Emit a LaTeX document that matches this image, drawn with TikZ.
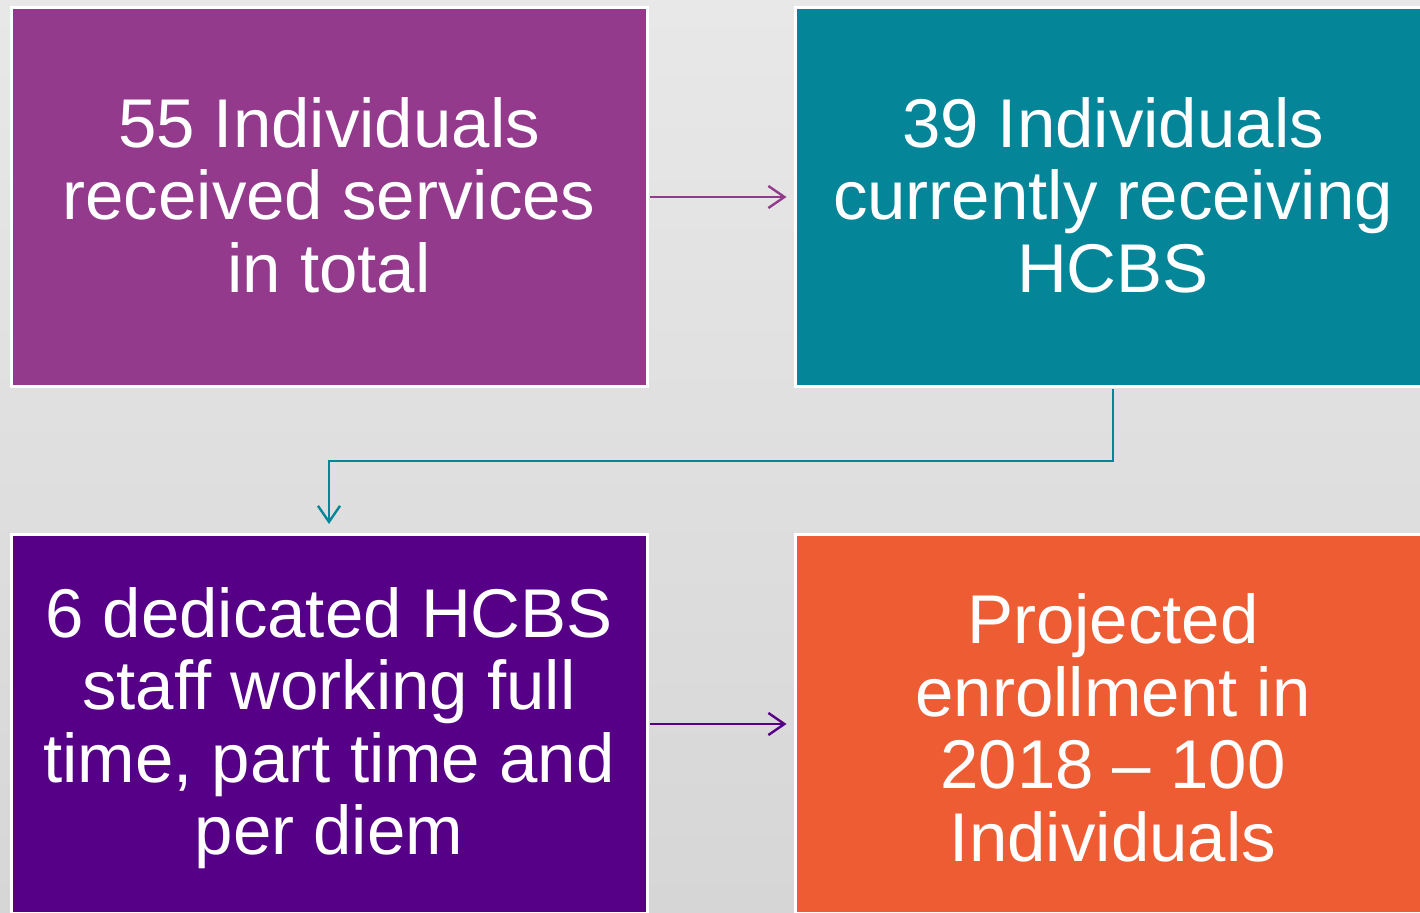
\documentclass[tikz,border=0pt]{standalone}
\usepackage{fontspec}
\setmainfont{Liberation Sans}
\usetikzlibrary{arrows.meta}
\definecolor{cA}{HTML}{943A8C}
\definecolor{cB}{HTML}{058598}
\definecolor{cC}{HTML}{560087}
\definecolor{cD}{HTML}{EE5C33}
\definecolor{bgTop}{HTML}{ECECEC}
\definecolor{bgBot}{HTML}{D2D2D2}
\tikzset{
  card/.style={draw=white, line width=3pt, minimum width=636pt, minimum height=379pt,
    inner sep=0pt, text=white, align=center, font=\fontsize{69}{72.5}\selectfont},
  link/.style={line width=2.4pt, -{Straight Barb[length=16pt,width=22pt,line width=2.4pt]}}
}
\begin{document}
\begin{tikzpicture}[x=1pt,y=-1pt]
\useasboundingbox (0,0) rectangle (1420,912);
\clip (0,0) rectangle (1420,912);
\shade[shading angle=210, top color=bgTop, bottom color=bgBot] (-200,-200) rectangle (1620,1112);
\node[card, fill=cA] (a) at (329,197) {};
\node[card, fill=cB] (b) at (1113,197) {};
\node[card, fill=cC] (c) at (329,724) {};
\node[card, fill=cD] (d) at (1113,724) {};
\node[card, draw=none, fill=none] (ta) at (329,195) {55 Individuals\\received services\\in total};
\node[card, draw=none, fill=none] (tb) at (1113,195) {39 Individuals\\currently receiving\\HCBS};
\node[card, draw=none, fill=none] (tc) at (329,728) {6 dedicated HCBS\\staff working full\\time, part time and\\per diem};
\node[card, draw=none, fill=none] (td) at (1113,728) {Projected\\enrollment in\\2018 -- 100\\Individuals};
\draw[link, cA, shorten <=1pt, shorten >=7pt] (a.east) -- (b.west);
\draw[link, cC, shorten <=1pt, shorten >=7pt] (c.east) -- (d.west);
\coordinate (m) at (1113,461);
\draw[link, cB, shorten <=1pt, shorten >=9pt] (b.south) -- (m) -| (c.north);
\end{tikzpicture}
\end{document}
